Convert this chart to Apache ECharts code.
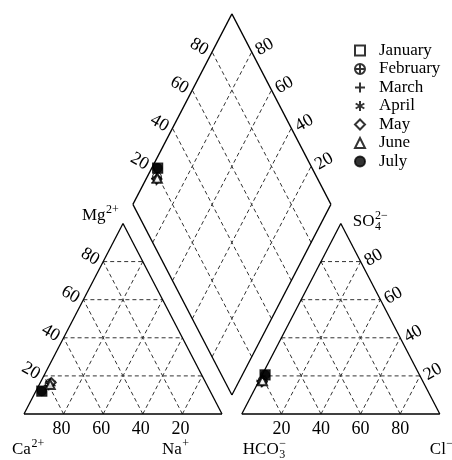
<!DOCTYPE html>
<html>
<head>
<meta charset="utf-8">
<script src="https://cdn.jsdelivr.net/npm/echarts@6/dist/echarts.min.js"></script>
<style>
  html, body { margin: 0; padding: 0; background: #fff; }
  #chart { width: 452px; height: 460px; }
</style>
</head>
<body>
<div id="chart"></div>
<script>
// Monthly major-ion composition (% of meq/L)
const months  = ['January', 'February', 'March', 'April', 'May', 'June', 'July'];
const caPct   = [85.0, 79.0, 80.0, 78.5, 78.0, 79.0, 85.0];
const mgPct   = [12.0, 16.0, 15.0, 16.0, 16.5, 15.5, 12.0];
const naPct   = [3.0, 5.0, 5.0, 5.5, 5.5, 5.5, 3.0];
const hco3Pct = [78.0, 80.7, 81.5, 81.9, 81.2, 80.8, 78.0];
const so4Pct  = [20.5, 17.5, 17.0, 16.5, 17.0, 17.5, 20.5];
const clPct   = [1.5, 1.8, 1.5, 1.6, 1.8, 1.7, 1.5];
const tickValues = [20, 40, 60, 80];

// Piper geometry: triangle side S, gap G between the two triangles
const S = 100, G = 10, R = Math.sqrt(3) / 2;

function cat(ca, mg, na) {            // cation triangle (Ca left, Na right, Mg apex)
  const t = ca + mg + na;
  mg = mg / t * 100; na = na / t * 100;
  return [na + mg / 2, mg * R];
}
function an(hco3, so4, cl) {          // anion triangle (HCO3 left, Cl right, SO4 apex)
  const t = hco3 + so4 + cl;
  so4 = so4 / t * 100; cl = cl / t * 100;
  return [S + G + cl + so4 / 2, so4 * R];
}
function dia(na, hco3) {              // central diamond
  const A = 100 - na, B = 100 - hco3;
  return [S + G / 2 + (B - A) / 2, (G + A + B) * R];
}

// frame and grid segments
const solid = [], dashed = [];
function seg(list, a, b) { list.push([a[0], a[1], b[0], b[1]]); }
function poly(list, pts) { for (let i = 0; i < pts.length; i++) seg(list, pts[i], pts[(i + 1) % pts.length]); }

poly(solid, [cat(100, 0, 0), cat(0, 0, 100), cat(0, 100, 0)]);
poly(solid, [an(100, 0, 0), an(0, 0, 100), an(0, 100, 0)]);
poly(solid, [dia(100, 100), dia(0, 100), dia(0, 0), dia(100, 0)]);

tickValues.forEach(v => {
  seg(dashed, cat(100 - v, v, 0), cat(0, v, 100 - v));
  seg(dashed, cat(100 - v, 0, v), cat(0, 100 - v, v));
  seg(dashed, cat(v, 0, 100 - v), cat(v, 100 - v, 0));
  seg(dashed, an(100 - v, v, 0), an(0, v, 100 - v));
  seg(dashed, an(100 - v, 0, v), an(0, 100 - v, v));
  seg(dashed, an(v, 0, 100 - v), an(v, 100 - v, 0));
  seg(dashed, dia(100 - v, 100), dia(100 - v, 0));
  seg(dashed, dia(100, 100 - v), dia(0, 100 - v));
});

// tick labels: anchor point, pixel offset, rotation
const FONT = '"Liberation Serif", "DejaVu Serif", serif';
const labels = [];
tickValues.forEach(v => {
  labels.push({ p: cat(v, 0, 100 - v), dx: -2, dy: 15, rot: 0, text: String(v) });
  labels.push({ p: cat(100 - v, v, 0), dx: -13, dy: -5, rot: -30, text: String(v) });
  labels.push({ p: an(100 - v, 0, v), dx: 0, dy: 15, rot: 0, text: String(v) });
  labels.push({ p: an(0, v, 100 - v), dx: 13, dy: -4, rot: 30, text: String(v) });
  labels.push({ p: dia(0, 100 - v), dx: -13, dy: -5, rot: -30, text: String(v) });
  labels.push({ p: dia(100 - v, 0), dx: 13, dy: -5, rot: 30, text: String(v) });
});

// ion names: main text at a pixel offset from a vertex, then sub/superscripts
const ions = [
  { p: cat(100, 0, 0), x: -12, y: 36, main: 'Ca', sup: '2+' },
  { p: cat(0, 0, 100), x: -60, y: 36, main: 'Na', sup: '+' },
  { p: cat(0, 100, 0), x: -41, y: -8, main: 'Mg', sup: '2+' },
  { p: an(100, 0, 0), x: 1, y: 36, main: 'HCO', sub: '3', sup: '\u2212' },
  { p: an(0, 0, 100), x: -10, y: 36, main: 'Cl', sup: '\u2212' },
  { p: an(0, 100, 0), x: 12, y: -2, main: 'SO', sub: '4', sup: '2\u2212' }
];
const ION_SIZE = 17, SCRIPT_SIZE = 12;
const measureCtx = document.createElement('canvas').getContext('2d');
function textWidth(t, size) {
  measureCtx.font = size + 'px ' + FONT;
  return measureCtx.measureText(t).width;
}

const symbols = [
  'rect',
  'path://M10,0A10,10 0 1,1 9.99,0ZM10,0L10,20M0,10L20,10',
  'path://M5,0L5,10M0,5L10,5',
  'path://M5,0L5,10M0.67,2.5L9.33,7.5M0.67,7.5L9.33,2.5',
  'emptyDiamond',
  'emptyTriangle',
  'circle'
];
const sizes = [10, 9, 10, 10, 9, 9, 9];

const chart = echarts.init(document.getElementById('chart'), null, { renderer: 'canvas' });

function lineSeries(data, dash, width, color, z) {
  return {
    type: 'custom', coordinateSystem: 'cartesian2d', silent: true, clip: false, z: z,
    encode: { x: [0, 2], y: [1, 3] },
    data: data,
    renderItem: (params, api) => {
      const a = api.coord([api.value(0), api.value(1)]);
      const b = api.coord([api.value(2), api.value(3)]);
      return { type: 'line', shape: { x1: a[0], y1: a[1], x2: b[0], y2: b[1] },
               style: { stroke: color, lineWidth: width, lineDash: dash } };
    }
  };
}

const monthSeries = months.map((m, i) => ({
  name: m, type: 'scatter', z: 10,
  symbol: symbols[i], symbolSize: sizes[i],
  itemStyle: symbols[i].startsWith('path')
    ? { color: 'rgba(0,0,0,0)', borderColor: '#000', borderWidth: 1.2 }
    : { color: '#000', borderColor: '#000', borderWidth: 1.2 },
  data: [
    cat(caPct[i], mgPct[i], naPct[i]),
    an(hco3Pct[i], so4Pct[i], clPct[i]),
    dia(naPct[i], hco3Pct[i])
  ]
}));

const legendData = months.map((m, i) => i === 0 ? { name: m, icon: 'emptyRect' } : { name: m });

chart.setOption({
  animation: false,
  grid: { left: 24, top: 13.9, width: 415.8, height: 400.1 },
  xAxis: { type: 'value', min: 0, max: 2 * S + G, show: false },
  yAxis: { type: 'value', min: 0, max: (2 * S + G) * R, show: false },
  legend: {
    orient: 'vertical', left: 354, top: 42, padding: 0, itemGap: 1.5,
    itemWidth: 10, itemHeight: 10,
    data: legendData,
    textStyle: { fontFamily: FONT, fontSize: 17, color: '#000', padding: [0, 0, 0, 9] }
  },
  series: [
    lineSeries(dashed, [4, 3], 1, '#333', 1),
    lineSeries(solid, null, 1.3, '#000', 2),
    {
      type: 'custom', coordinateSystem: 'cartesian2d', silent: true, clip: false, z: 3,
      data: labels.map(l => l.p),
      renderItem: (params, api) => {
        const l = labels[params.dataIndex];
        const c = api.coord(l.p);
        return { type: 'text', x: c[0] + l.dx, y: c[1] + l.dy, rotation: l.rot * Math.PI / 180,
                 style: { text: l.text, fontFamily: FONT, fontSize: 18, fill: '#000',
                          align: 'center', verticalAlign: 'middle' } };
      }
    },
    {
      type: 'custom', coordinateSystem: 'cartesian2d', silent: true, clip: false, z: 3,
      data: ions.map(o => o.p),
      renderItem: (params, api) => {
        const o = ions[params.dataIndex];
        const c = api.coord(o.p);
        const x0 = c[0] + o.x, y0 = c[1] + o.y;
        const xs = x0 + textWidth(o.main, ION_SIZE) + 0.5;
        const kids = [{ type: 'text', x: x0, y: y0,
          style: { text: o.main, fontFamily: FONT, fontSize: ION_SIZE, fill: '#000', align: 'left', verticalAlign: 'middle' } }];
        if (o.sup) kids.push({ type: 'text', x: xs, y: y0 - 6,
          style: { text: o.sup, fontFamily: FONT, fontSize: SCRIPT_SIZE, fill: '#000', align: 'left', verticalAlign: 'middle' } });
        if (o.sub) kids.push({ type: 'text', x: xs, y: y0 + 5,
          style: { text: o.sub, fontFamily: FONT, fontSize: SCRIPT_SIZE, fill: '#000', align: 'left', verticalAlign: 'middle' } });
        return { type: 'group', children: kids };
      }
    }
  ].concat(monthSeries)
});
</script>
</body>
</html>
